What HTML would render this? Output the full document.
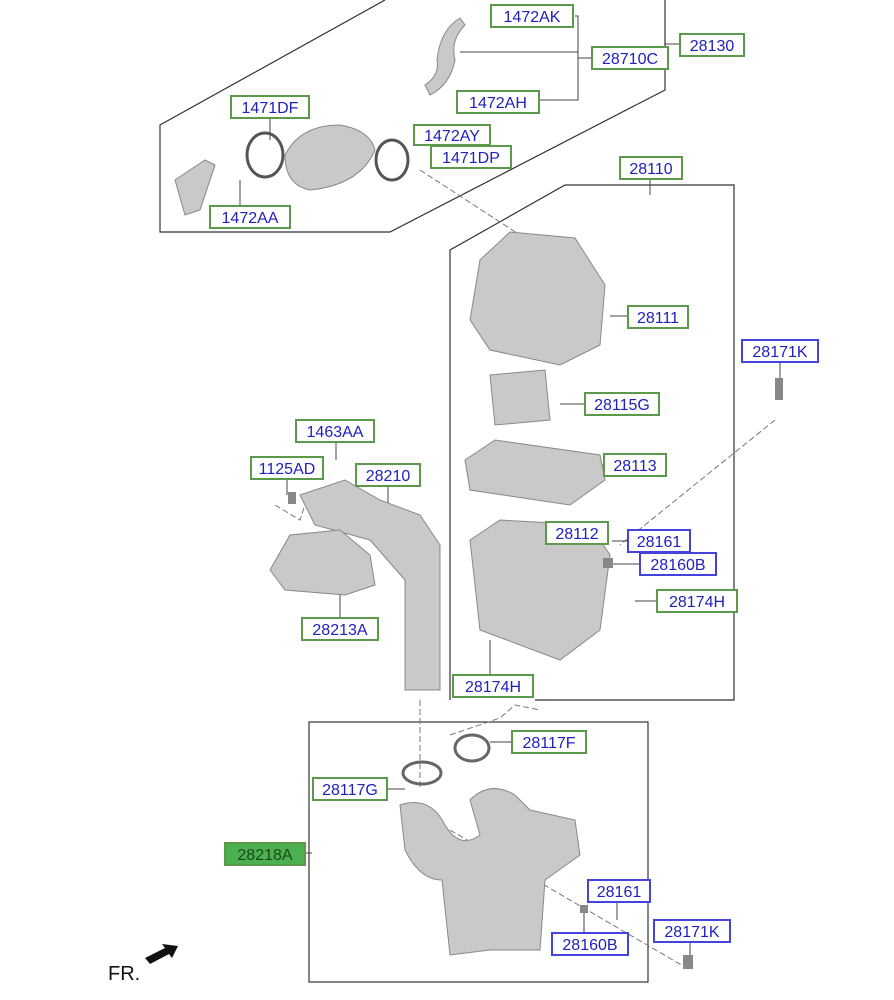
<!DOCTYPE html>
<html><head><meta charset="utf-8"><style>
body{margin:0;background:#fff;width:894px;height:1000px;overflow:hidden}
svg{display:block}
.l{font-family:"Liberation Sans",sans-serif;font-size:16px;fill:#2020c0}
</style></head><body>
<svg width="894" height="1000" viewBox="0 0 894 1000" xmlns="http://www.w3.org/2000/svg">
<g fill="none" stroke="#333" stroke-width="1.2">
<polyline points="385,0 160,125 160,232 390,232 665,90 665,0"/>
<polyline points="450,700 450,250 565,185 734,185 734,700 535,700"/>
<rect x="309" y="722" width="339" height="260"/>
</g>
<g fill="none" stroke="#777" stroke-width="1" stroke-dasharray="6,3">
<line x1="420" y1="170" x2="520" y2="235"/>
<line x1="420" y1="700" x2="420" y2="790"/>
<line x1="775" y1="420" x2="620" y2="545"/>
<line x1="450" y1="830" x2="690" y2="970"/>
<polyline points="450,735 500,718 515,705 540,710"/>
<polyline points="275,505 300,520 305,505"/>
</g>
<g fill="none" stroke="#444" stroke-width="1">
<polyline points="575,16 578,16 578,100 540,100"/><line x1="578" y1="58" x2="592" y2="58"/><line x1="460" y1="52" x2="578" y2="52"/>
<line x1="665" y1="44" x2="680" y2="44"/>
<line x1="270" y1="118" x2="270" y2="140"/><line x1="240" y1="206" x2="240" y2="180"/>
<line x1="650" y1="179" x2="650" y2="195"/><line x1="610" y1="316" x2="628" y2="316"/>
<line x1="560" y1="404" x2="585" y2="404"/><line x1="590" y1="465" x2="604" y2="465"/>
<line x1="577" y1="544" x2="577" y2="600"/><line x1="612" y1="564" x2="640" y2="564"/><line x1="612" y1="541" x2="628" y2="541"/>
<line x1="635" y1="601" x2="657" y2="601"/><line x1="490" y1="675" x2="490" y2="640"/>
<line x1="340" y1="618" x2="340" y2="590"/><line x1="388" y1="486" x2="388" y2="510"/>
<line x1="287" y1="479" x2="287" y2="495"/><line x1="336" y1="442" x2="336" y2="460"/>
<line x1="490" y1="742" x2="512" y2="742"/><line x1="387" y1="789" x2="405" y2="789"/>
<line x1="305" y1="853" x2="312" y2="853"/><line x1="584" y1="933" x2="584" y2="908"/><line x1="617" y1="902" x2="617" y2="920"/>
<line x1="690" y1="942" x2="690" y2="958"/><line x1="780" y1="362" x2="780" y2="380"/>
</g>
<g fill="#c9c9c9" stroke="#888" stroke-width="1">
<path d="M175,180 L205,160 L215,165 L200,210 L185,215 Z"/>
<path d="M285,155 Q300,125 340,125 Q370,130 375,150 Q360,185 310,190 Q285,185 285,155Z"/>
<path d="M437,60 Q440,30 460,18 L465,25 Q450,40 455,60 Q450,85 430,95 L425,85 Q440,75 437,60Z"/>
<ellipse cx="265" cy="155" rx="18" ry="22" fill="none" stroke="#555" stroke-width="3"/>
<ellipse cx="392" cy="160" rx="16" ry="20" fill="none" stroke="#555" stroke-width="3"/>
<path d="M480,260 L510,232 L575,238 L605,285 L600,345 L560,365 L490,350 L470,320 Z"/>
<path d="M490,375 L545,370 L550,420 L495,425 Z"/>
<path d="M465,460 L495,440 L600,455 L605,480 L570,505 L470,490 Z"/>
<path d="M470,540 L500,520 L590,525 L610,555 L600,630 L560,660 L480,630 Z"/>
<path d="M300,495 L345,480 L380,500 L420,515 L440,545 L440,690 L405,690 L405,580 L370,540 L315,525 Z"/>
<path d="M270,570 L290,535 L340,530 L370,555 L375,585 L345,595 L285,590 Z"/>
<ellipse cx="472" cy="748" rx="17" ry="13" fill="none" stroke="#666" stroke-width="3"/>
<ellipse cx="422" cy="773" rx="19" ry="11" fill="none" stroke="#666" stroke-width="3"/>
<path d="M400,805 Q430,795 445,825 Q460,850 480,835 L470,800 Q490,780 515,795 L530,810 L575,820 L580,855 L545,880 L540,950 L490,950 L450,955 L442,880 Q420,880 405,850Z"/>
</g>
<g fill="#888"><rect x="775" y="378" width="8" height="22"/><rect x="288" y="492" width="8" height="12"/><rect x="683" y="955" width="10" height="14"/><rect x="603" y="558" width="10" height="10"/><rect x="580" y="905" width="8" height="8"/></g>
<g fill="#fff" stroke="#5a9a4a" stroke-width="2">
<rect x="491" y="5" width="82" height="22"/><rect x="592" y="47" width="76" height="22"/><rect x="680" y="34" width="64" height="22"/>
<rect x="457" y="91" width="82" height="22"/><rect x="231" y="96" width="78" height="22"/><rect x="414" y="125" width="76" height="20"/>
<rect x="431" y="146" width="80" height="22"/><rect x="210" y="206" width="80" height="22"/><rect x="620" y="157" width="62" height="22"/>
<rect x="628" y="306" width="60" height="22"/><rect x="585" y="393" width="74" height="22"/><rect x="296" y="420" width="78" height="22"/>
<rect x="251" y="457" width="72" height="22"/><rect x="356" y="464" width="64" height="22"/><rect x="604" y="454" width="62" height="22"/>
<rect x="546" y="522" width="62" height="22"/><rect x="657" y="590" width="80" height="22"/><rect x="302" y="618" width="76" height="22"/>
<rect x="453" y="675" width="80" height="22"/><rect x="512" y="731" width="74" height="22"/><rect x="313" y="778" width="74" height="22"/>
<rect x="225" y="843" width="80" height="22" fill="#4caf50"/>
</g>
<g fill="#fff" stroke="#4444dd" stroke-width="2">
<rect x="742" y="340" width="76" height="22"/><rect x="628" y="530" width="62" height="22"/><rect x="640" y="553" width="76" height="22"/>
<rect x="588" y="880" width="62" height="22"/><rect x="552" y="933" width="76" height="22"/><rect x="654" y="920" width="76" height="22"/>
</g>
<g class="l" text-anchor="middle">
<text x="532" y="22">1472AK</text><text x="630" y="64">28710C</text><text x="712" y="51">28130</text>
<text x="498" y="108">1472AH</text><text x="270" y="113">1471DF</text><text x="452" y="141">1472AY</text>
<text x="471" y="163">1471DP</text><text x="250" y="223">1472AA</text><text x="651" y="174">28110</text>
<text x="658" y="323">28111</text><text x="622" y="410">28115G</text><text x="335" y="437">1463AA</text>
<text x="287" y="474">1125AD</text><text x="388" y="481">28210</text><text x="635" y="471">28113</text>
<text x="577" y="539">28112</text><text x="697" y="607">28174H</text><text x="340" y="635">28213A</text>
<text x="493" y="692">28174H</text><text x="549" y="748">28117F</text><text x="350" y="795">28117G</text>
<text x="265" y="860" fill="#1a4a1a">28218A</text>
<text x="780" y="357">28171K</text><text x="659" y="547">28161</text><text x="678" y="570">28160B</text>
<text x="619" y="897">28161</text><text x="590" y="950">28160B</text><text x="692" y="937">28171K</text>
</g>
<text x="108" y="980" font-family="Liberation Sans,sans-serif" font-size="20" fill="#111">FR.</text>
<path d="M145,958 L165,948 L162,944 L178,946 L172,958 L169,954 L150,964Z" fill="#111"/>
</svg>
</body></html>
